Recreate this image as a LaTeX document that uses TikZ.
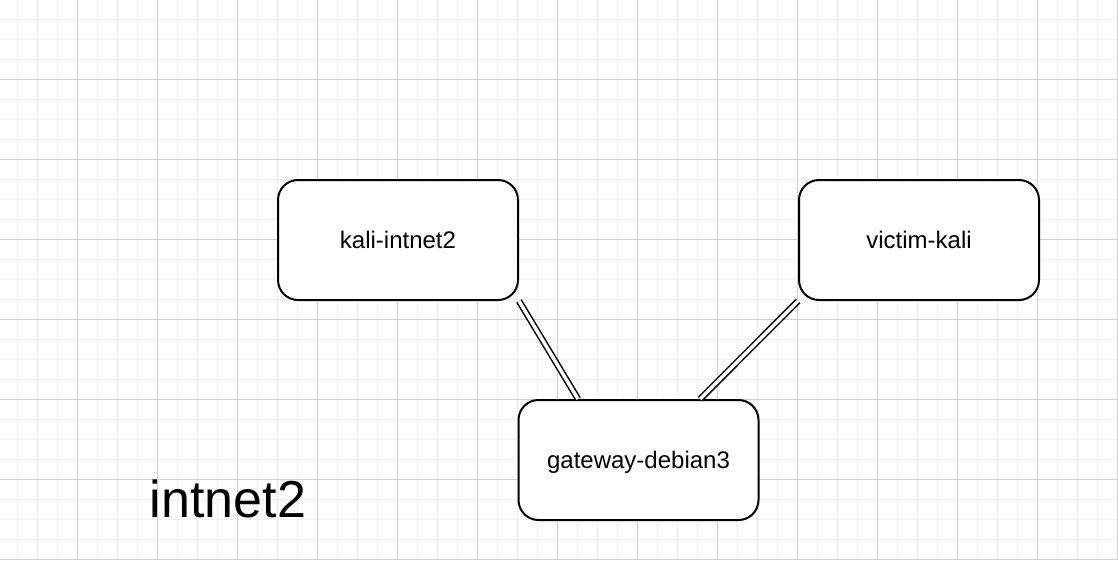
\documentclass[tikz,border=0pt]{standalone}
\usepackage{fontspec}
\setmainfont{Liberation Sans}
\usetikzlibrary{calc}

\tikzset{
  host/.style={draw, line width=2pt, rounded corners=20pt, fill=white,
    minimum width=240pt, minimum height=120pt, inner sep=0pt,
    font=\fontsize{24pt}{28pt}\selectfont, text height=17.2pt, text depth=0pt},
  link/.style={double=white, double distance=3.5pt, line width=1.5pt},
  minorgrid/.style={draw=black!6, line width=1pt},
  majorgrid/.style={draw=black!19, line width=1pt}
}

\begin{document}
\begin{tikzpicture}[x=1pt, y=-1pt]
            \useasboundingbox (0,0) rectangle (1118,560);
            \fill[white] (0,0) rectangle (1118,560);

            % Grid
            \foreach \x in {17,37,...,1117} \draw[minorgrid] (\x,0) -- (\x,560);
            \foreach \y in {19,39,...,559} \draw[minorgrid] (0,\y) -- (1118,\y);
            \foreach \x in {77,157,...,1117} \draw[majorgrid] (\x,0) -- (\x,560);
            \foreach \y in {79,159,...,559} \draw[majorgrid] (0,\y) -- (1118,\y);

            % Hosts
            \node[host] (kali) at (398,240) {kali-intnet2};
            \node[host] (victim) at (919,240) {victim-kali};
            \node[host] (gw) at (638.5,460) {gateway-debian3};

            % Network name
            \node[anchor=base, inner sep=0pt, font=\fontsize{52pt}{60pt}\selectfont] (net) at (228,517) {intnet2};

            % Links
            \draw[link] (kali.south east) -- ($(gw.north west)!0.25!(gw.north east)$);
            \draw[link] (victim.south west) -- ($(gw.north west)!0.755!(gw.north east)$);
        \end{tikzpicture}
\end{document}
